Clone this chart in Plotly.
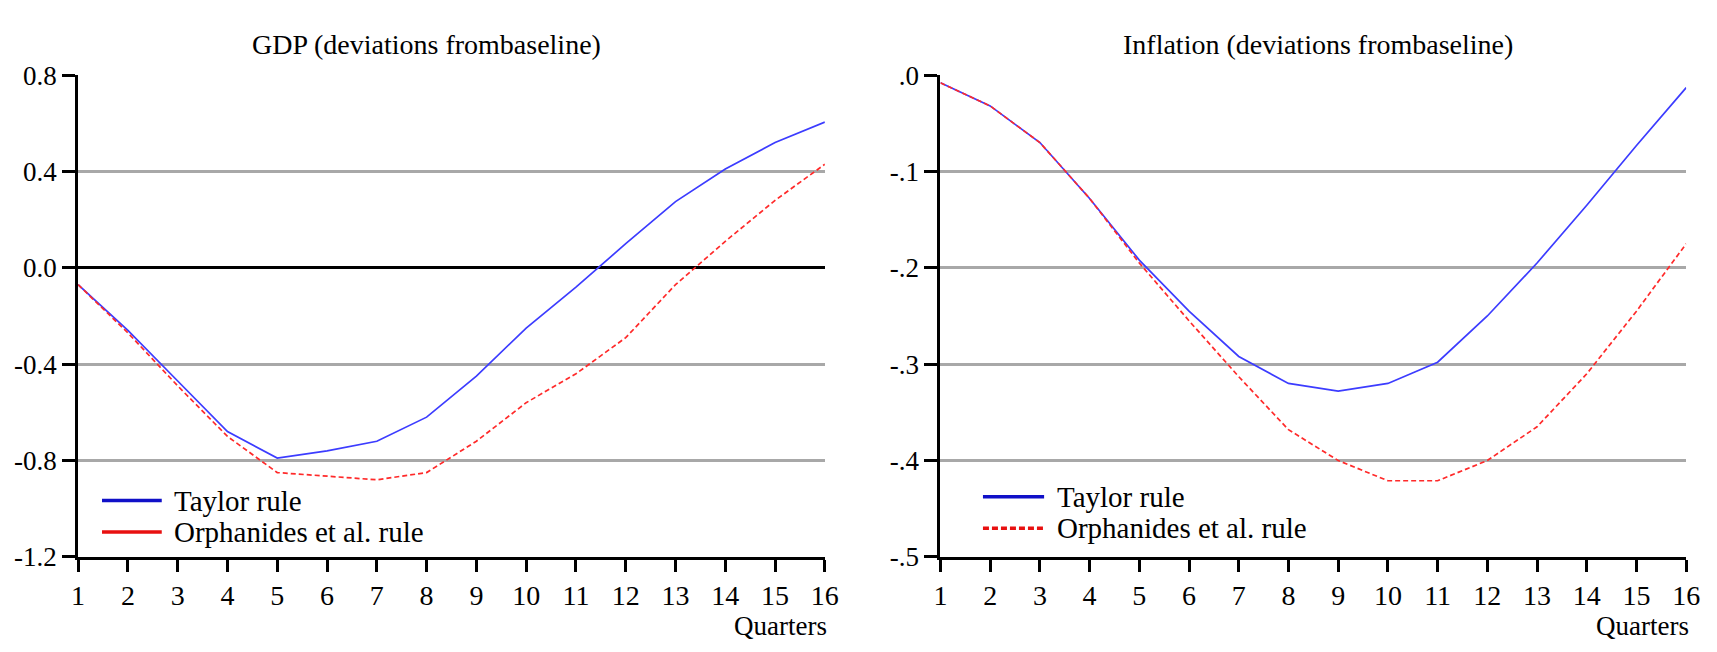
import plotly.graph_objects as go
from plotly.subplots import make_subplots

# values
quarters = list(range(1, 17))

gdp_taylor = [-0.07, -0.26, -0.47, -0.68, -0.79, -0.76, -0.72, -0.62,
              -0.45, -0.25, -0.08, 0.10, 0.275, 0.41, 0.52, 0.605]
gdp_orph = [-0.07, -0.27, -0.49, -0.70, -0.85, -0.865, -0.88, -0.85,
            -0.72, -0.56, -0.44, -0.29, -0.07, 0.11, 0.28, 0.43]

infl_taylor = [-0.008, -0.032, -0.07, -0.128, -0.192, -0.245, -0.292, -0.32,
               -0.328, -0.32, -0.298, -0.25, -0.195, -0.135, -0.073, -0.013]
infl_orph = [-0.008, -0.032, -0.07, -0.128, -0.195, -0.255, -0.313, -0.368,
             -0.40, -0.421, -0.421, -0.40, -0.365, -0.31, -0.245, -0.175]

gdp_ticks = [-1.2, -0.8, -0.4, 0.0, 0.4, 0.8]
gdp_ticktext = ["-1.2", "-0.8", "-0.4", "0.0", "0.4", "0.8"]
infl_ticks = [-0.5, -0.4, -0.3, -0.2, -0.1, 0.0]
infl_ticktext = ["-.5", "-.4", "-.3", "-.2", "-.1", ".0"]

titles = ["GDP (deviations frombaseline)", "Inflation (deviations frombaseline)"]
legend_names = ["Taylor rule", "Orphanides et al. rule"]

FONT = "Liberation Serif"
BLUE = "#3c3cff"
RED = "#ff2a2a"
W, H = 1717, 652

fig = make_subplots(rows=1, cols=2)

fig.add_trace(go.Scatter(x=quarters, y=gdp_taylor, mode="lines",
                         line=dict(color=BLUE, width=1.7)), row=1, col=1)
fig.add_trace(go.Scatter(x=quarters, y=gdp_orph, mode="lines",
                         line=dict(color=RED, width=1.7, dash="5px,3px")), row=1, col=1)
fig.add_trace(go.Scatter(x=quarters, y=infl_taylor, mode="lines",
                         line=dict(color=BLUE, width=1.7)), row=1, col=2)
fig.add_trace(go.Scatter(x=quarters, y=infl_orph, mode="lines",
                         line=dict(color=RED, width=1.7, dash="5px,3px")), row=1, col=2)

xcommon = dict(range=[1, 16], tickvals=quarters, showgrid=False, zeroline=False,
               showline=True, linecolor="black", linewidth=3,
               ticks="outside", ticklen=12, tickwidth=3, tickcolor="black",
               tickfont=dict(family=FONT, size=28, color="black"))
ycommon = dict(showline=True, linecolor="black", linewidth=3,
               ticks="outside", ticklen=13, tickwidth=3, tickcolor="black",
               showgrid=True, gridcolor="#a8a8a8", gridwidth=3,
               tickfont=dict(family=FONT, size=27, color="black"))

fig.update_xaxes(domain=[72 / W, 828 / W], **xcommon, row=1, col=1)
fig.update_xaxes(domain=[945 / W, 1700 / W], **xcommon, row=1, col=2)
fig.update_yaxes(domain=[1 - 568 / H, 1 - 63 / H], range=[-1.2, 0.8],
                 tickvals=gdp_ticks, ticktext=gdp_ticktext,
                 zeroline=True, zerolinecolor="black", zerolinewidth=3,
                 **ycommon, row=1, col=1)
fig.update_yaxes(domain=[1 - 568 / H, 1 - 63 / H], range=[-0.5, 0.0],
                 tickvals=infl_ticks, ticktext=infl_ticktext, zeroline=False,
                 **ycommon, row=1, col=2)

# panel titles and "Quarters" labels
fig.add_annotation(text=titles[0], xref="paper", yref="paper", x=425 / W, y=1 - 31 / H,
                   xanchor="center", yanchor="middle", showarrow=False,
                   font=dict(family=FONT, size=28, color="black"))
fig.add_annotation(text=titles[1], xref="paper", yref="paper", x=1327 / W, y=1 - 31 / H,
                   xanchor="center", yanchor="middle", showarrow=False,
                   font=dict(family=FONT, size=28, color="black"))
for xr in ["x domain", "x2 domain"]:
    fig.add_annotation(text="Quarters", xref=xr, yref="paper", x=1.006, y=1 - 640 / H,
                       xanchor="right", yanchor="middle", showarrow=False,
                       font=dict(family=FONT, size=27, color="black"))

# hand-drawn legends inside each panel
legends = [
    ("x domain", 0.032, 0.112, 0.126, [509, 542], [None, None]),
    ("x2 domain", 0.057, 0.139, 0.153, [505, 538], [None, "6px,3px"]),
]
for xr, x0, x1, xt, ys, dashes in legends:
    for name, color, yy, dash in zip(legend_names, ["#1010c8", "#e81010"], ys, dashes):
        line = dict(color=color, width=3.5)
        if dash:
            line["dash"] = dash
        fig.add_shape(type="line", xref=xr, yref="paper", x0=x0, x1=x1,
                      y0=1 - yy / H, y1=1 - yy / H, line=line)
        fig.add_annotation(text=name, xref=xr, yref="paper", x=xt, y=1 - yy / H,
                           xanchor="left", yanchor="middle", showarrow=False,
                           font=dict(family=FONT, size=29, color="black"))

fig.update_layout(width=W, height=H, margin=dict(l=0, r=0, t=0, b=0),
                  showlegend=False, plot_bgcolor="white", paper_bgcolor="white")

fig.write_html("out.html", config={"displayModeBar": False},
               post_script="document.body.style.margin='0';")
